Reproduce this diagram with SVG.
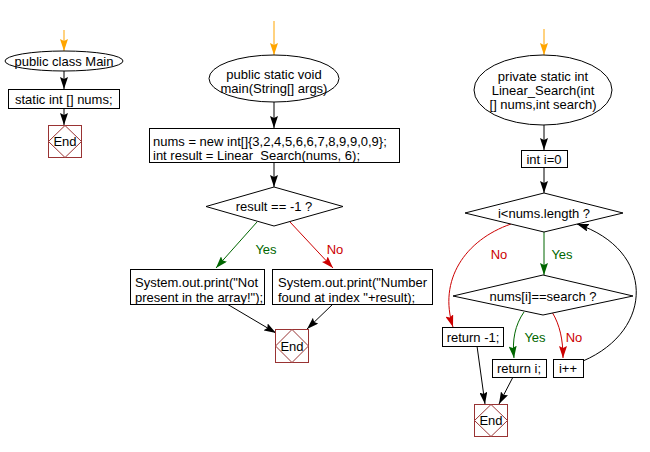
<svg xmlns="http://www.w3.org/2000/svg" width="650" height="452" viewBox="0 0 650 452">
<defs>
<style>
.t{font-family:"Liberation Sans",Arial,sans-serif;font-size:13px;fill:#000;}
.tc{text-anchor:middle;}
.box{fill:#fff;stroke:#000;stroke-width:1;}
.end{fill:#fff;stroke:#993333;stroke-width:1;}
.c{fill:none;stroke:#000;stroke-width:1;}
.o{stroke:#FFA500;}
.g{stroke:#006600;}
.r{stroke:#CC0000;}
.gt{fill:#006600;}
.rt{fill:#CC0000;}
</style>
<marker id="ak" viewBox="0 0 12 8" refX="12" refY="4" markerWidth="12" markerHeight="8" markerUnits="userSpaceOnUse" orient="auto"><path d="M0,0 L12,4 L0,8 L2,4 z" fill="#000"/></marker>
<marker id="ao" viewBox="0 0 12 8" refX="12" refY="4" markerWidth="12" markerHeight="8" markerUnits="userSpaceOnUse" orient="auto"><path d="M0,0 L12,4 L0,8 L2,4 z" fill="#FFA500"/></marker>
<marker id="ag" viewBox="0 0 12 8" refX="12" refY="4" markerWidth="12" markerHeight="8" markerUnits="userSpaceOnUse" orient="auto"><path d="M0,0 L12,4 L0,8 L2,4 z" fill="#006600"/></marker>
<marker id="ar" viewBox="0 0 12 8" refX="12" refY="4" markerWidth="12" markerHeight="8" markerUnits="userSpaceOnUse" orient="auto"><path d="M0,0 L12,4 L0,8 L2,4 z" fill="#CC0000"/></marker>
</defs>
<rect width="650" height="452" fill="#fff"/>

<g id="connectors">
<line class="c o" x1="64" y1="30" x2="64" y2="51" marker-end="url(#ao)"/>
<line class="c" x1="64" y1="71" x2="64" y2="89" marker-end="url(#ak)"/>
<line class="c" x1="64" y1="109" x2="64" y2="125" marker-end="url(#ak)"/>

<line class="c o" x1="274" y1="21" x2="274" y2="55" marker-end="url(#ao)"/>
<line class="c" x1="274" y1="102" x2="274" y2="128" marker-end="url(#ak)"/>
<line class="c" x1="274" y1="162" x2="274" y2="187" marker-end="url(#ak)"/>
<line class="c g" x1="257" y1="222" x2="216" y2="268" marker-end="url(#ag)"/>
<line class="c r" x1="290" y1="222" x2="333" y2="268" marker-end="url(#ar)"/>
<line class="c" x1="227" y1="304" x2="276" y2="333" marker-end="url(#ak)"/>
<line class="c" x1="333" y1="304" x2="307" y2="329" marker-end="url(#ak)"/>

<line class="c o" x1="544" y1="29" x2="544" y2="55" marker-end="url(#ao)"/>
<line class="c" x1="544" y1="125" x2="544" y2="150" marker-end="url(#ak)"/>
<line class="c" x1="544" y1="167" x2="544" y2="193" marker-end="url(#ak)"/>
<line class="c g" x1="544" y1="232" x2="544" y2="275" marker-end="url(#ag)"/>
<path class="c r" d="M511,224 C465,240 438,280 453,327" marker-end="url(#ar)"/>
<path class="c g" d="M524,312 C515,325 512,340 514,358" marker-end="url(#ag)"/>
<path class="c r" d="M552,312 C560,325 563,340 563,358" marker-end="url(#ar)"/>
<path class="c" d="M583,361 C655,330 655,250 577,224" marker-end="url(#ak)"/>
<line class="c" x1="477" y1="346" x2="485" y2="404" marker-end="url(#ak)"/>
<line class="c" x1="513" y1="377" x2="499" y2="404" marker-end="url(#ak)"/>

<text class="t gt tc" x="266" y="254">Yes</text>
<text class="t rt tc" x="335" y="254">No</text>
<text class="t rt tc" x="499" y="259">No</text>
<text class="t gt tc" x="562" y="259">Yes</text>
<text class="t gt tc" x="535" y="342">Yes</text>
<text class="t rt tc" x="574" y="342">No</text>
</g>

<g id="n_main_class">
<ellipse class="box" cx="64" cy="61" rx="59" ry="10"/>
<text class="t tc" x="64" y="65.5">public class Main</text>
</g>
<g id="n_static_nums">
<rect class="box" x="8.5" y="89.5" width="111" height="19"/>
<text class="t" x="15" y="104">static int [] nums;</text>
</g>
<g id="n_end1">
<rect class="end" x="48.5" y="125.5" width="33" height="32"/>
<polygon class="end" points="65,125.5 81.5,141.5 65,157.5 48.5,141.5"/>
<text class="t tc" x="65" y="146">End</text>
</g>

<g id="n_main_method">
<ellipse class="box" cx="274" cy="78.5" rx="65" ry="23.5"/>
<text class="t tc" x="274" y="78.5">public static void</text>
<text class="t tc" x="274" y="93">main(String[] args)</text>
</g>
<g id="n_init">
<rect class="box" x="149.5" y="128.5" width="250" height="34"/>
<text class="t" x="153" y="145.5">nums = new int[]{3,2,4,5,6,6,7,8,9,9,0,9};</text>
<text class="t" x="153" y="159.5">int result = Linear_Search(nums, 6);</text>
</g>
<g id="n_cond_result">
<polygon class="box" points="274,187 343,206.5 274,226 206,206.5"/>
<text class="t tc" x="274" y="211">result == -1 ?</text>
</g>
<g id="n_not_present">
<rect class="box" x="130.5" y="269.5" width="134" height="35"/>
<text class="t" x="135" y="286.5">System.out.print("Not</text>
<text class="t" x="135" y="301.5">present in the array!");</text>
</g>
<g id="n_found">
<rect class="box" x="272.5" y="269.5" width="160" height="35"/>
<text class="t" x="278" y="286.5">System.out.print("Number</text>
<text class="t" x="278" y="301.5">found at index "+result);</text>
</g>
<g id="n_end2">
<rect class="end" x="275.5" y="329.5" width="33" height="33"/>
<polygon class="end" points="292,329.5 308.5,346 292,362.5 275.5,346"/>
<text class="t tc" x="292" y="350.5">End</text>
</g>

<g id="n_linear_search">
<ellipse class="box" cx="543" cy="90" rx="69" ry="35"/>
<text class="t tc" x="543" y="80.5">private static int</text>
<text class="t tc" x="543" y="94.5">Linear_Search(int</text>
<text class="t tc" x="543" y="108.5">[] nums,int search)</text>
</g>
<g id="n_i0">
<rect class="box" x="521.5" y="150.5" width="46" height="17"/>
<text class="t tc" x="544" y="163.5">int i=0</text>
</g>
<g id="n_cond_len">
<polygon class="box" points="544,193 623,213 544,232 465,213"/>
<text class="t tc" x="544" y="217.5">i&lt;nums.length ?</text>
</g>
<g id="n_cond_search">
<polygon class="box" points="543,275 633,296 543,315 453,296"/>
<text class="t tc" x="543" y="300.5">nums[i]==search ?</text>
</g>
<g id="n_ret_neg">
<rect class="box" x="442.5" y="327.5" width="61" height="19"/>
<text class="t tc" x="473" y="342">return -1;</text>
</g>
<g id="n_ret_i">
<rect class="box" x="492.5" y="359.5" width="54" height="18"/>
<text class="t tc" x="519" y="373">return i;</text>
</g>
<g id="n_inc">
<rect class="box" x="553.5" y="359.5" width="30" height="18"/>
<text class="t tc" x="568" y="373">i++</text>
</g>
<g id="n_end3">
<rect class="end" x="474.5" y="404.5" width="33" height="32"/>
<polygon class="end" points="491,404.5 507.5,420.5 491,436.5 474.5,420.5"/>
<text class="t tc" x="491" y="425">End</text>
</g>
</svg>
